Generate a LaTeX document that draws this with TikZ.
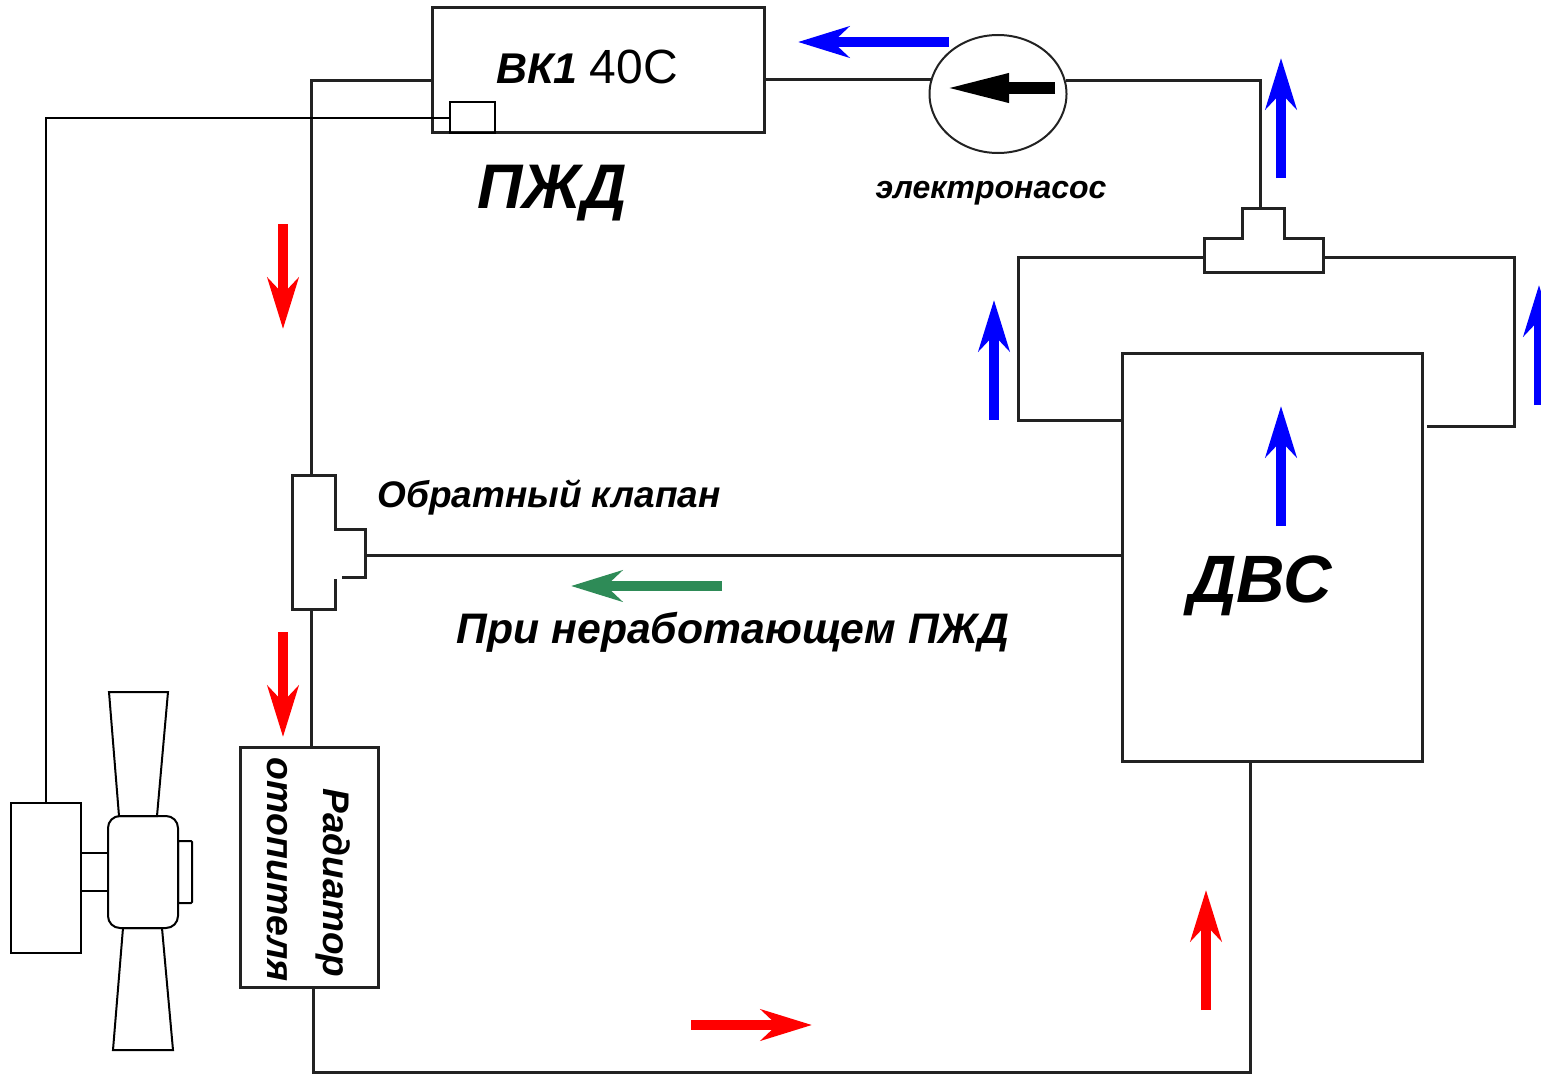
\documentclass[tikz,border=0pt]{standalone}
\usepackage{fontspec}
\setmainfont{Liberation Sans}
\usepackage{xcolor}
\usetikzlibrary{shapes.geometric,arrows.meta}
\definecolor{pipegray}{HTML}{222222}
\definecolor{flowgreen}{HTML}{2E8B57}
\newcommand{\lbl}[1]{\fontsize{#1}{#1}\selectfont\bfseries\itshape}

\begin{document}
\begin{tikzpicture}[
    x=1pt,
    y=-1pt,
    block/.style={
      rectangle,
      draw=pipegray,
      line width=3pt,
      inner sep=0pt
    },
    fanpart/.style={
      rectangle,
      draw,
      line width=2pt,
      inner sep=0pt
    },
    label/.style={inner sep=0pt, text=black},
    line/.style={draw=pipegray, line width=3pt},
    wire/.style={draw, line width=2pt},
    flow/.style={
      draw=#1,
      line width=10pt,
      -{Stealth[length=51pt, width=31pt, inset=16pt, fill=#1]}
    },
]
    \useasboundingbox (0,0) rectangle (1541,1073);

    % boxes
    \node [block, minimum width=332pt, minimum height=124pt] (pzhd) at (598,70) {};
    \node [fanpart, minimum width=45pt, minimum height=31pt] (sensor) at (472.5,117.5) {};
    \node [block, ellipse, line width=2pt, minimum width=137pt, minimum height=118pt, right of=pzhd, node distance=400pt, yshift=-24pt] (pump) {};
    \node [block, minimum width=300pt, minimum height=408pt] (dvs) at (1272,557) {};
    \node [block, minimum width=138pt, minimum height=240pt] (radiator) at (309,867) {};

    % fan
    \node [fanpart, minimum width=70pt, minimum height=150pt] (motor) at (45.5,878) {};
    \node [fanpart, rounded corners=12pt, minimum width=70pt, minimum height=112pt] (hub) at (143,872) {};
    \node [fanpart, minimum width=27pt, minimum height=38pt] (coupling) at (94.5,872) {};
    \node [fanpart, rounded corners=1pt, minimum width=14pt, minimum height=62pt] (cap) at (185,872) {};
    \draw [wire] (109,692) coordinate (bladetop) -- (168,692) -- (157,816) -- (119,816) -- cycle;
    \draw [wire] (123,928) coordinate (bladebottom) -- (162,928) -- (173,1050) -- (113,1050) -- cycle;

    % tee and check valve
    \draw [line] (1204,272) -- (1204,238) -- (1242,238) -- (1242,208) -- (1284,208) -- (1284,238) -- (1323,238) -- (1323,272) -- cycle;
    \draw [line] (342,577) -- (365,577) -- (365,529) -- (335,529) -- (335,475) -- (292,475) -- (292,609) -- (335,609) -- (335,579);
    \coordinate (teetop) at (1260,208);
    \coordinate (teeleft) at (1204,257);
    \coordinate (teeright) at (1323,257);
    \coordinate (valvetop) at (311,475);
    \coordinate (valvebottom) at (311,609);
    \coordinate (valveside) at (365,555);
    \coordinate (corner) at (311,80);
    \coordinate (bypassleft) at (1018,420);
    \coordinate (bypassright) at (1514,426);
    \coordinate (bypassend) at (1427,426);
    \coordinate (radout) at (313,987);
    \coordinate (bottomline) at (313,1072);
    \coordinate (dvsout) at (1250,761);
    \coordinate (wirecorner) at (46,118);

    % pipes
    \path [line] (pump.168.5) -- (pump.168.5 -| pzhd.east);
    \path [line] (pump.11.5) -| (teetop);
    \path [line] (corner -| pzhd.west) -- (corner) -- (valvetop);
    \path [line] (valvebottom) -- (valvebottom |- radiator.north);
    \path [line] (valveside) -- (valveside -| dvs.west);
    \path [line] (teeleft) -| (bypassleft) -- (bypassleft -| dvs.west);
    \path [line] (teeright) -| (bypassright) -- (bypassend);
    \path [line] (radout) -- (bottomline) -| (dvsout);
    \path [wire] (wirecorner -| sensor.west) -- (wirecorner) -- (wirecorner |- motor.north);

    % labels
    \node [label, left of=pzhd, node distance=11pt, yshift=3pt] (pzhdname) {\lbl{43}ВК1 {\fontsize{48}{48}\selectfont\mdseries\upshape 40С}};
    \node [label, below of=pzhd, node distance=123pt, xshift=-46pt] (pzhdlabel) {\lbl{63}ПЖД};
    \node [label, below of=pump, node distance=99pt, xshift=-7pt] (pumplabel) {\lbl{32}электронасос};
    \node [label] (valvelabel) at (549,497) {\lbl{37}Обратный клапан};
    \node [label] (offlabel) at (733,632) {\lbl{42.7}При неработающем ПЖД};
    \node [label] (dvslabel) at (1260,586) {\lbl{67}ДВС};
    \node [label, rotate=-90] (radlabela) at (333,883) {\lbl{37}Радиатор};
    \node [label, rotate=-90] (radlabelb) at (277,870) {\lbl{37.5}отопителя};

    % flow arrows
    \coordinate (fa1) at (949,42);   \coordinate (fb1) at (798,42);
    \coordinate (fa2) at (1281,178); \coordinate (fb2) at (1281,58);
    \coordinate (fa3) at (994,420);  \coordinate (fb3) at (994,300);
    \coordinate (fa4) at (1539,405); \coordinate (fb4) at (1539,285);
    \coordinate (fa5) at (1281,526); \coordinate (fb5) at (1281,406);
    \coordinate (fa6) at (283,224);  \coordinate (fb6) at (283,329);
    \coordinate (fa7) at (283,632);  \coordinate (fb7) at (283,737);
    \coordinate (fa8) at (1206,1010); \coordinate (fb8) at (1206,890);
    \coordinate (fa9) at (691,1025); \coordinate (fb9) at (812,1025);
    \coordinate (fa10) at (722,586); \coordinate (fb10) at (571,586);
    \foreach \i in {1,...,5}
      \path [flow=blue] (fa\i) -- (fb\i);
    \foreach \i in {6,...,9}
      \path [flow=red] (fa\i) -- (fb\i);
    \path [flow=flowgreen] (fa10) -- (fb10);

    \coordinate (pa) at (1055,88);
    \coordinate (pb) at (950,88);
    \path [draw=black, line width=12pt, -{Stealth[length=66pt, width=26pt, inset=0pt, sep=-7pt, fill=black]}] (pa) -- (pb);
\end{tikzpicture}
\end{document}
